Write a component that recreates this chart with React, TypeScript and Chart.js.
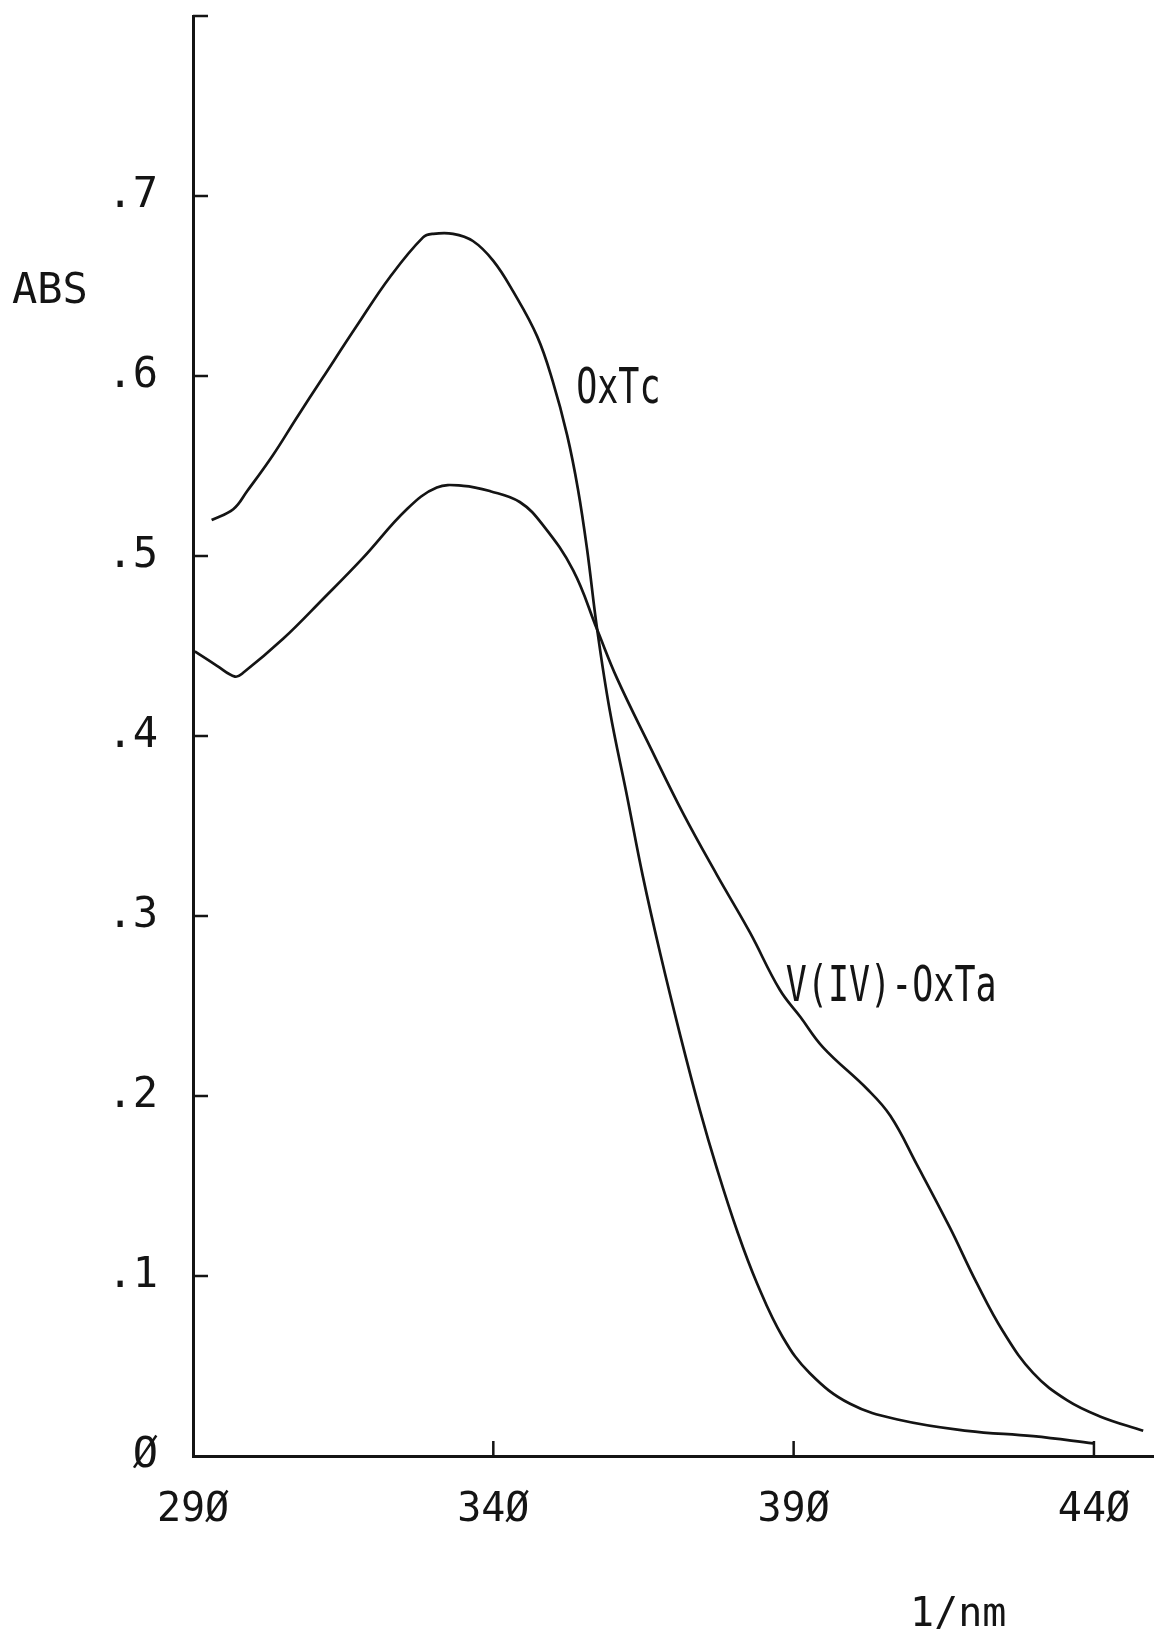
import React, { useEffect, useRef } from 'react';
import { Chart, registerables } from 'chart.js';

Chart.register(...registerables);

// ---- data (wavelength nm, absorbance) ----
const OXTC_NM = [293.1, 296.7, 299.0, 303.3, 307.3, 311.6, 317.3, 322.8, 328.3, 330.0, 333.3, 336.6, 340.0, 343.3, 347.3, 349.9, 352.3, 354.1, 355.6, 357.3, 359.4, 362.3, 364.9, 367.8, 371.1, 374.4, 377.2, 380.6, 383.9, 388.2, 392.7, 399.4, 407.7, 418.9, 429.9, 439.9];
const OXTC_ABS = [0.520, 0.526, 0.536, 0.556, 0.577, 0.599, 0.628, 0.655, 0.677, 0.679, 0.679, 0.675, 0.664, 0.647, 0.622, 0.597, 0.567, 0.537, 0.504, 0.459, 0.414, 0.366, 0.322, 0.279, 0.234, 0.192, 0.160, 0.125, 0.096, 0.066, 0.046, 0.029, 0.020, 0.014, 0.011, 0.007];

const VOXTA_NM = [290.3, 294.0, 297.0, 298.3, 305.0, 311.6, 318.3, 325.6, 330.6, 335.0, 339.5, 344.4, 348.3, 353.3, 357.3, 360.6, 366.1, 371.6, 377.2, 382.7, 387.7, 391.1, 394.9, 402.2, 406.1, 410.5, 416.0, 420.5, 424.9, 429.9, 435.5, 441.0, 448.2];
const VOXTA_ABS = [0.447, 0.439, 0.433, 0.435, 0.454, 0.476, 0.499, 0.526, 0.538, 0.539, 0.536, 0.530, 0.517, 0.492, 0.459, 0.432, 0.394, 0.357, 0.323, 0.291, 0.259, 0.244, 0.227, 0.204, 0.189, 0.162, 0.127, 0.096, 0.069, 0.046, 0.031, 0.022, 0.014];

const X_TICKS = [290, 340, 390, 440];
const X_TICK_LABELS = ['29Ø', '34Ø', '39Ø', '44Ø'];
const X_TICK_MARKS = [340, 390, 440];

const Y_TICKS = [0, 0.1, 0.2, 0.3, 0.4, 0.5, 0.6, 0.7];
const Y_TICK_LABELS = ['Ø', '.1', '.2', '.3', '.4', '.5', '.6', '.7'];
const Y_TICK_MARKS = [0.1, 0.2, 0.3, 0.4, 0.5, 0.6, 0.7, 0.8];

const SERIES_NAMES = ['OxTc', 'V(IV)-OxTa'];
const Y_TITLE = 'ABS';
const X_TITLE = '1/nm';

const INK = '#141414';
const MONO = '"DejaVu Sans Mono", "Liberation Mono", monospace';

const annotatePlugin = {
  id: 'annotate',
  afterDraw(chart: any) {
    const { ctx } = chart;
    const xs = chart.scales.x;
    const ys = chart.scales.y;
    const x0 = xs.left;
    const y0 = ys.bottom;
    ctx.save();
    ctx.strokeStyle = INK;
    ctx.lineWidth = 2.5;
    ctx.beginPath();
    Y_TICK_MARKS.forEach((v) => {
      const py = ys.getPixelForValue(v);
      ctx.moveTo(x0, py);
      ctx.lineTo(x0 + 15, py);
    });
    X_TICK_MARKS.forEach((v) => {
      const px = xs.getPixelForValue(v);
      ctx.moveTo(px, y0);
      ctx.lineTo(px, y0 - 15);
    });
    ctx.stroke();

    ctx.fillStyle = INK;
    ctx.textAlign = 'left';
    ctx.textBaseline = 'alphabetic';
    ctx.font = `42px ${MONO}`;
    ctx.fillText(Y_TITLE, 12, 303);
    ctx.font = `40px ${MONO}`;
    ctx.fillText(X_TITLE, 910, 1626);

    const narrowText = (text: string, px: number, py: number) => {
      ctx.save();
      ctx.translate(px, py);
      ctx.scale(0.7, 1);
      ctx.font = `50px ${MONO}`;
      ctx.fillText(text, 0, 0);
      ctx.restore();
    };
    narrowText(SERIES_NAMES[0], xs.getPixelForValue(353.8), ys.getPixelForValue(0.585));
    narrowText(SERIES_NAMES[1], xs.getPixelForValue(388.7), ys.getPixelForValue(0.253));
    ctx.restore();
  },
};

export default function App() {
  const canvasRef = useRef<HTMLCanvasElement | null>(null);

  useEffect(() => {
    if (!canvasRef.current) return;
    const mk = (xs: number[], ys: number[]) => xs.map((x, i) => ({ x, y: ys[i] }));
    const lineStyle = {
      borderColor: INK,
      borderWidth: 2.7,
      pointRadius: 0,
      fill: false,
      tension: 0.4,
    };
    const chart = new Chart(canvasRef.current, {
      type: 'line',
      data: {
        datasets: [
          { label: SERIES_NAMES[0], data: mk(OXTC_NM, OXTC_ABS), ...lineStyle },
          { label: SERIES_NAMES[1], data: mk(VOXTA_NM, VOXTA_ABS), ...lineStyle },
        ],
      },
      options: {
        animation: false,
        responsive: true,
        maintainAspectRatio: false,
        layout: { padding: 0 },
        plugins: { legend: { display: false }, tooltip: { enabled: false } },
        scales: {
          x: {
            type: 'linear',
            min: 290,
            max: 450,
            afterBuildTicks: (s: any) => {
              s.ticks = X_TICKS.map((v) => ({ value: v }));
            },
            afterFit: (s: any) => {
              s.height = 173;
              s.paddingLeft = 0;
              s.paddingRight = 0;
            },
            ticks: {
              autoSkip: false,
              maxRotation: 0,
              padding: 31,
              color: INK,
              font: { family: MONO, size: 40 },
              callback: (_v: any, i: number) => X_TICK_LABELS[i],
            },
            grid: { display: false, drawTicks: false },
            border: { display: true, color: INK, width: 3 },
          },
          y: {
            type: 'linear',
            min: 0,
            max: 0.8,
            afterBuildTicks: (s: any) => {
              s.ticks = Y_TICKS.map((v) => ({ value: v }));
            },
            afterFit: (s: any) => {
              s.width = 193;
              s.paddingTop = 16;
              s.paddingBottom = 0;
            },
            ticks: {
              autoSkip: false,
              padding: 35,
              color: INK,
              font: { family: MONO, size: 42 },
              callback: (_v: any, i: number) => Y_TICK_LABELS[i],
            },
            grid: { display: false, drawTicks: false },
            border: { display: true, color: INK, width: 3 },
          },
        },
      } as any,
      plugins: [annotatePlugin],
    });
    return () => chart.destroy();
  }, []);

  return (
    <div style={{ position: 'fixed', left: 0, top: 0, width: 1154, height: 1629, background: '#ffffff' }}>
      <canvas ref={canvasRef} />
    </div>
  );
}
